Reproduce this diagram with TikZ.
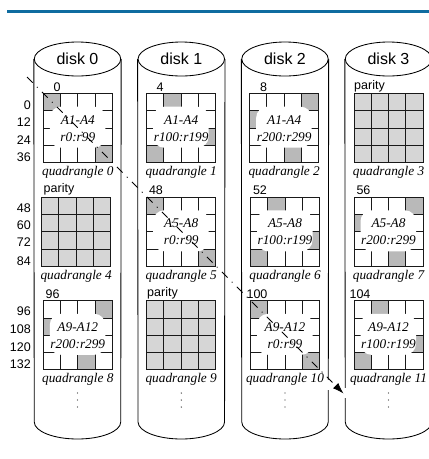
\documentclass[tikz,border=0pt]{standalone}
\usepackage{fontspec}
\setmainfont{Liberation Serif}
\newfontfamily\lsans{Liberation Sans}
\usetikzlibrary{shapes.geometric,arrows.meta}
\tikzset{
  diskline/.style={line width=0.85pt,black},
  disktop/.style={ellipse,draw,line width=0.85pt,fill=white,minimum width=86.5pt,minimum height=34pt,inner sep=0pt,font=\lsans\fontsize{16}{18}\selectfont},
  shadecell/.style={fill=shadegray},
  gridline/.style={line width=1pt,black!90},
  blob/.style={fill=white,rounded corners=11pt,minimum width=55.5pt,minimum height=41pt,inner sep=0pt},
  itext/.style={font=\itshape\fontsize{13.3}{15}\selectfont,inner sep=0pt},
  numtext/.style={font=\lsans\fontsize{12.5}{14}\selectfont,inner sep=0pt},
  rownum/.style={numtext,anchor=east},
  dotmark/.style={fill=black!80,inner sep=0pt,minimum size=1.4pt,circle},
  flow/.style={line width=0.8pt,dash pattern=on 8pt off 6pt on 1pt off 6.2pt,-{Latex[length=11pt,width=7.5pt]}},
  gapmask/.style={fill=white,inner sep=0pt,minimum width=4pt}
}
\definecolor{shadegray}{HTML}{B9B9B9}
\definecolor{paritygray}{HTML}{D6D6D6}
\definecolor{barblue}{HTML}{0F6CA0}
% name, x, y, line 1, line 2, caption, shaded cells
\newcommand{\quadcell}[7]{%
  \begin{scope}[shift={(#2,#3)}]
    \foreach \c/\r in {#7}{\fill[shadecell] (\c*17.25,\r*17.25) rectangle +(17.25,17.25);}
    \foreach \k in {1,2,3}{
      \draw[gridline] (\k*17.25,0) -- (\k*17.25,69);
      \draw[gridline] (0,\k*17.25) -- (69,\k*17.25);
    }
    \draw[gridline] (0,0) rectangle (69,69);
    \node[blob] (#1b) at (34.25,33.5) {};
    \node[itext] (#1a) at (34.5,26) {#4};
    \node[itext] (#1r) at (34.5,43) {#5};
    \node[itext] (#1c) at (34.5,78.5) {#6};
  \end{scope}}
\newcommand{\paritycell}[4]{%
  \begin{scope}[shift={(#2,#3)}]
    \fill[paritygray] (0,0) rectangle (69,69);
    \foreach \k in {1,2,3}{
      \draw[gridline] (\k*17.25,0) -- (\k*17.25,69);
      \draw[gridline] (0,\k*17.25) -- (69,\k*17.25);
    }
    \draw[gridline] (0,0) rectangle (69,69);
    \node[itext] (#1c) at (34.5,78.5) {#4};
  \end{scope}}
\newcommand{\diskbody}[3]{%
  \node[disktop] (#1) at (#2,59) {#3};
  \draw[diskline] (#1.west) -- (#2-43.25,422) arc[start angle=180,end angle=360,x radius=43.25pt,y radius=17pt] -- (#1.east);
  \node[dotmark] (#1p) at (#2,393) {};
  \node[dotmark] (#1q) at (#2,400) {};
  \node[dotmark] (#1s) at (#2,407) {};}
\begin{document}
\begin{tikzpicture}[x=1pt,y=-1pt]
\useasboundingbox (0,0) rectangle (429,459);
\clip (0,0) rectangle (429,459);
\fill[white] (0,0) rectangle (429,459);
\fill[barblue] (7,9.8) rectangle (429,12.6);
\diskbody{d0}{77.5}{disk 0}
\diskbody{d1}{181.3}{disk 1}
\diskbody{d2}{285}{disk 2}
\diskbody{d3}{388.5}{disk 3}
% row 1
\quadcell{q0}{43.3}{93.7}{A1-A4}{r0:r99}{quadrangle 0}{0/0,3/3}
\quadcell{q1}{146.7}{93.7}{A1-A4}{r100:r199}{quadrangle 1}{1/0,3/2,0/3}
\quadcell{q2}{249.7}{93.7}{A1-A4}{r200:r299}{quadrangle 2}{3/0,0/1,2/3}
\paritycell{q3}{354}{93.7}{quadrangle 3}
% row 2
\paritycell{q4}{41.7}{197.3}{quadrangle 4}
\quadcell{q5}{146.7}{197.3}{A5-A8}{r0:r99}{quadrangle 5}{0/0,3/3}
\quadcell{q6}{250.5}{197.3}{A5-A8}{r100:r199}{quadrangle 6}{1/0,3/2,0/3}
\quadcell{q7}{354}{197.3}{A5-A8}{r200:r299}{quadrangle 7}{3/0,0/1,2/3}
% row 3
\quadcell{q8}{43.3}{300.8}{A9-A12}{r200:r299}{quadrangle 8}{3/0,0/1,2/3}
\paritycell{q9}{146.7}{300.8}{quadrangle 9}
\quadcell{q10}{250.5}{300.8}{A9-A12}{r0:r99}{quadrangle 10}{0/0,3/3}
\quadcell{q11}{354}{300.8}{A9-A12}{r100:r199}{quadrangle 11}{1/0,3/2,0/3}
% labels above quadrangles
\node[numtext] (n0) at (57,87) {0};
\node[numtext] (n4) at (160,87) {4};
\node[numtext] (n8) at (263.5,87) {8};
\node[numtext,anchor=west] (p3) at (354,86) {parity};
\node[numtext,anchor=west] (p4) at (43.5,189.5) {parity};
\node[numtext] (n48) at (156,190) {48};
\node[numtext] (n52) at (260,190) {52};
\node[numtext] (n56) at (363.5,190) {56};
\node[numtext] (n96) at (52.7,294) {96};
\node[numtext,anchor=west] (p9) at (147,293) {parity};
\node[numtext] (n100) at (257,294) {100};
\node[numtext] (n104) at (360,294) {104};
% row numbers
\foreach \t/\y in {0/105,12/122,24/140,36/157,48/208,60/225,72/242,84/261,96/311,108/329,120/347,132/364}{
  \node[rownum] (r\t) at (31,\y) {\t};
}
% arrow
\node[gapmask,minimum height=10pt] (m2) at (328.2,385) {};
\node[gapmask,minimum height=10pt] (m3) at (345.2,393) {};
\coordinate (s) at (27,77);
\coordinate (t) at (343.5,393.5);
\draw[flow] (s) -- (t);
\end{tikzpicture}
\end{document}
